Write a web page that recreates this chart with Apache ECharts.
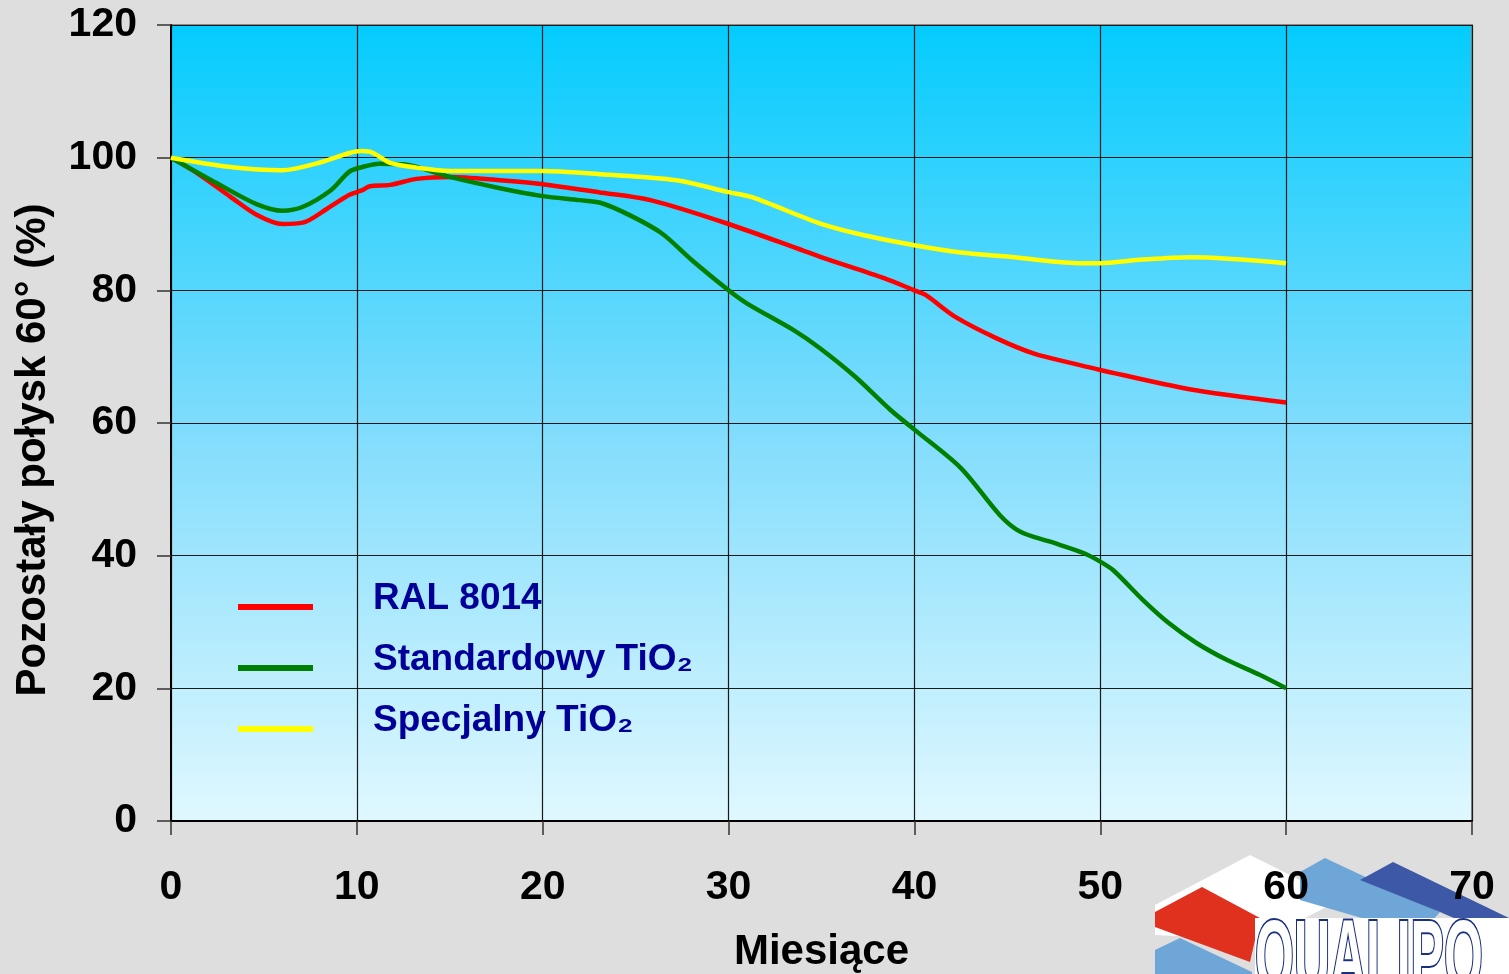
<!DOCTYPE html>
<html><head><meta charset="utf-8">
<script src="https://cdn.jsdelivr.net/npm/echarts@6/dist/echarts.min.js"></script>
<style>html,body{margin:0;padding:0;background:#dedede}#c{width:1509px;height:974px}</style>
</head><body><div id="c"></div>
<script>
const seriesNames = ['RAL 8014', 'Standardowy TiO₂', 'Specjalny TiO₂'];
const ralX = [0,1.5,3.2,4.6,6,7.1,8.4,9.6,10.3,10.7,11.8,13.2,15,17.7,20,23,25.8,30,34.9,38.4,40,40.6,42.2,44.4,46.4,48.8,50,54.8,60];
const ralY = [100,97.5,94.1,91.4,90,90.2,92.3,94.4,95.1,95.7,95.9,96.8,97.1,96.6,96,94.8,93.6,90,85.1,81.8,80,79.3,76,72.8,70.5,68.8,68,65.1,63.1];
const stdX = [0,2.5,4.6,6,7.1,8.6,9.6,10.3,11.2,12.5,15,17.7,20,22,23.1,24.7,26.4,28,30,31,33.5,34.9,36.8,38.7,40,42.5,44.6,45.7,47.3,49.1,50,50.7,52.3,53.7,55.2,56.8,58.6,60];
const stdY = [100,96.1,93,92,92.6,95.1,97.9,98.6,99.1,99,97.1,95.4,94.2,93.6,93.2,91.3,88.6,84.6,80,78,74,71.3,67,62,59,53.2,46.1,43.6,42.1,40.4,39.1,37.8,33.3,29.8,26.8,24.3,22,20];
const specX = [0,3.2,6,7.8,9.6,10.2,10.7,11.8,13.2,15,17.7,20,23.1,27.2,30,31.3,34.9,37.3,40,42.5,45,48.8,50,52.1,54.8,60];
const specY = [100,98.6,98.1,99.1,100.7,101,100.9,99.2,98.5,98,98,98,97.5,96.6,94.8,94,90.1,88.3,86.8,85.7,85.1,84.1,84.1,84.6,85,84.1];
const xTicks = [0,10,20,30,40,50,60,70];
const yTicks = [0,20,40,60,80,100,120];
const colors = ['#ff0000', '#008000', '#ffff00'];

const zip = (xs, ys) => xs.map((x, i) => [x, ys[i]]);
const FONT = "'Liberation Sans', Arial, sans-serif";

const chart = echarts.init(document.getElementById('c'));
chart.setOption({
  backgroundColor: '#dedede',
  animation: false,
  grid: {
    left: 171, right: 37, top: 25, bottom: 153,
    outerBoundsMode: 'none',
    show: true,
    borderColor: '#8a8a8a', borderWidth: 2,
    backgroundColor: new echarts.graphic.LinearGradient(0, 0, 0, 1, [
      {offset: 0, color: '#03ccfe'},
      {offset: 0.5, color: '#7fdcfc'},
      {offset: 1, color: '#e0f8ff'}
    ])
  },
  legend: {
    orient: 'vertical', left: 233, top: 575, itemGap: 24,
    itemWidth: 75, itemHeight: 23,
    icon: 'path://M0,0L0.01,0L0.01,0.01Z M0,17L75,17L75,23L0,23Z',
    data: seriesNames,
    textStyle: {color: '#000099', fontFamily: FONT, fontWeight: 'bold', fontSize: 37, padding: [0, 0, 0, 55]}
  },
  xAxis: {
    type: 'value', min: 0, max: 70, interval: 10,
    name: 'Miesiące', nameLocation: 'middle', nameGap: 110,
    nameTextStyle: {color: '#000', fontFamily: FONT, fontWeight: 'bold', fontSize: 42},
    axisLine: {show: true, lineStyle: {color: '#000', width: 2}},
    axisTick: {show: true, length: 14, lineStyle: {color: '#333', width: 1.5}},
    axisLabel: {color: '#000', fontFamily: FONT, fontWeight: 'bold', fontSize: 41, margin: 46,
      formatter: v => xTicks.includes(v) ? String(v) : ''},
    splitLine: {show: true, lineStyle: {color: '#1a1a1a', width: 1.2}}
  },
  yAxis: {
    type: 'value', min: 0, max: 120, interval: 20,
    name: 'Pozostały połysk 60° (%)', nameLocation: 'middle', nameGap: 117, nameRotate: 90,
    nameTextStyle: {color: '#000', fontFamily: FONT, fontWeight: 'bold', fontSize: 42, padding: [0, 54, 0, 0]},
    axisLine: {show: true, lineStyle: {color: '#000', width: 2}},
    axisTick: {show: true, length: 14, lineStyle: {color: '#333', width: 1.5}},
    axisLabel: {color: '#000', fontFamily: FONT, fontWeight: 'bold', fontSize: 41, margin: 34,
      formatter: v => yTicks.includes(v) ? String(v) : ''},
    splitLine: {show: true, lineStyle: {color: '#1a1a1a', width: 1.2}}
  },
  series: [
    {name: seriesNames[0], type: 'line', data: zip(ralX, ralY), smooth: 0.3, showSymbol: false, color: colors[0], lineStyle: {width: 4.5}, z: 3},
    {name: seriesNames[1], type: 'line', data: zip(stdX, stdY), smooth: 0.3, showSymbol: false, color: colors[1], lineStyle: {width: 4.5}, z: 4},
    {name: seriesNames[2], type: 'line', data: zip(specX, specY), smooth: 0.3, showSymbol: false, color: colors[2], lineStyle: {width: 4.5}, z: 5}
  ],
  graphic: [
    {type: 'group', x: 0, y: 0, z: -1, silent: true, children: [
      {type: 'polygon', shape: {points: [[1155,905],[1250,855],[1340,900],[1262,940],[1155,935]]}, style: {fill: '#ffffff'}},
      {type: 'polygon', shape: {points: [[1300,872],[1325,858],[1440,912],[1420,935],[1300,900]]}, style: {fill: '#6fa6d8'}},
      {type: 'polygon', shape: {points: [[1360,880],[1393,862],[1509,918],[1509,942],[1440,912]]}, style: {fill: '#3c58a6'}},
      {type: 'polygon', shape: {points: [[1155,912],[1202,887],[1260,918],[1250,962],[1155,927]]}, style: {fill: '#e0301e'}},
      {type: 'polygon', shape: {points: [[1155,950],[1180,938],[1252,972],[1252,974],[1155,974]]}, style: {fill: '#6fa6d8'}},
      {type: 'rect', shape: {x: 1255, y: 918, width: 254, height: 56}, style: {fill: '#ffffff'}},
      {type: 'text', x: 1255, y: 912, scaleX: 0.5, style: {text: 'QUALIPO', font: "bold 100px 'Liberation Sans', Arial", fill: '#ffffff', stroke: '#1a2f80', lineWidth: 4}}
    ]}
  ]
});
</script></body></html>
